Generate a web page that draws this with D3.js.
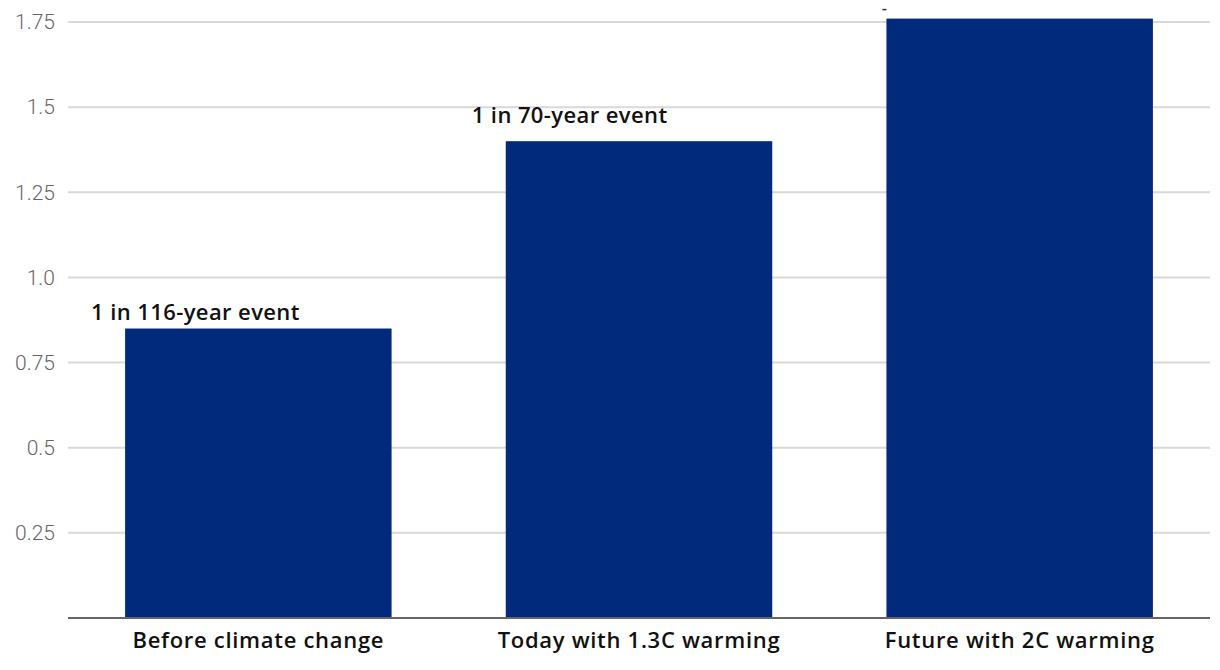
<!DOCTYPE html>
<html>
<head>
<meta charset="utf-8">
<script src="https://cdn.jsdelivr.net/npm/d3@7"></script>
<style>
  html, body { margin: 0; padding: 0; background: #fff; }
  svg { display: block; }
</style>
</head>
<body>
<svg id="chart" width="1220" height="670"></svg>
<script>
const categories = ["Before climate change", "Today with 1.3C warming", "Future with 2C warming"];
const values = [0.85, 1.40, 1.76];
const annotations = ["1 in 116-year event", "1 in 70-year event", ""];
const tickValues = [0.25, 0.5, 0.75, 1.0, 1.25, 1.5, 1.75];
const tickLabels = ["0.25", "0.5", "0.75", "1.0", "1.25", "1.5", "1.75"];

(function () {
const svg = d3.select("#chart");
const mLeft = 68, mRight = 1210, mBottom = 618, mTop = 22;
const labelFont = "'Open Sans', sans-serif";

const x = d3.scaleBand().domain(categories).range([mLeft, mRight])
  .paddingInner(0.3).paddingOuter(0.15);
const y = d3.scaleLinear().domain([0, 1.75]).range([mBottom, mTop]);

// gridlines
svg.append("g").selectAll("line").data(tickValues).join("line")
  .attr("x1", mLeft).attr("x2", mRight)
  .attr("y1", d => y(d)).attr("y2", d => y(d))
  .attr("stroke", "#d9d9d9").attr("stroke-width", 2);

// y tick labels
svg.append("g").selectAll("text").data(tickValues).join("text")
  .attr("x", 55).attr("y", d => y(d)).attr("dy", "0.35em")
  .attr("text-anchor", "end")
  .attr("font-family", "Roboto, sans-serif").attr("font-weight", 300)
  .attr("font-size", 21).attr("fill", "#666")
  .text((d, i) => tickLabels[i]);

// bars
svg.append("g").selectAll("rect").data(values).join("rect")
  .attr("x", (d, i) => x(categories[i]))
  .attr("width", x.bandwidth())
  .attr("y", d => y(d))
  .attr("height", d => y(0) - y(d))
  .attr("fill", "#01297c");

// baseline
svg.append("line")
  .attr("x1", mLeft).attr("x2", mRight)
  .attr("y1", y(0)).attr("y2", y(0))
  .attr("stroke", "#666").attr("stroke-width", 2);

// category labels
svg.append("g").selectAll("text").data(categories).join("text")
  .attr("x", d => x(d) + x.bandwidth() / 2)
  .attr("y", mBottom + 30)
  .attr("text-anchor", "middle")
  .attr("font-family", labelFont).attr("font-weight", 600)
  .attr("font-size", 22).attr("letter-spacing", 0.7).attr("fill", "#111")
  .text(d => d);

// annotations
const annDy = [9, 18, 9];
svg.append("g").selectAll("text").data(annotations).join("text")
  .attr("x", (d, i) => x(categories[i]) - 34)
  .attr("y", (d, i) => y(values[i]) - annDy[i])
  .attr("font-family", labelFont).attr("font-weight", 600)
  .attr("font-size", 22).attr("letter-spacing", 0.4).attr("fill", "#111")
  .text(d => d);

// small clipped mark above third bar
svg.append("line")
  .attr("x1", x(categories[2]) - 4).attr("x2", x(categories[2]))
  .attr("y1", y(values[2]) - 9).attr("y2", y(values[2]) - 9)
  .attr("stroke", "#333").attr("stroke-width", 1.5);
})();
</script>
</body>
</html>
